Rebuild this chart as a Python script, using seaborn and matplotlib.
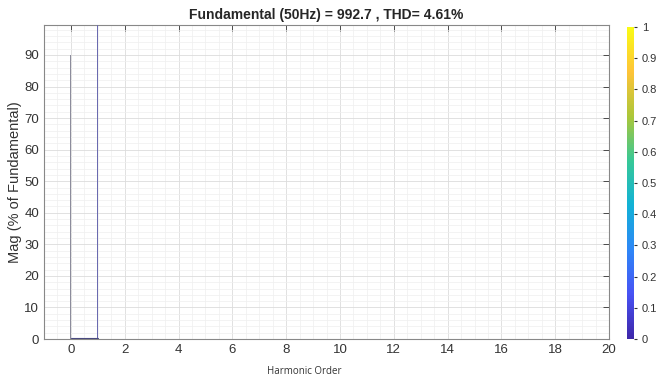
import numpy as np
import pandas as pd
import seaborn as sns
import matplotlib
matplotlib.use("Agg")
import matplotlib.pyplot as plt
from matplotlib.colors import LinearSegmentedColormap, Normalize
from matplotlib.ticker import MultipleLocator
from matplotlib.colorbar import ColorbarBase

# Harmonic spectrum values (% of fundamental)
harmonic_order = [0, 1]
magnitude = [90, 100]
bar_colors = ["#8c8c9c", "#6a6ab0"]

title_text = "Fundamental (50Hz) = 992.7 , THD= 4.61%"
x_ticks = list(range(0, 21, 2))
y_ticks = list(range(0, 100, 10))
cbar_ticks = [0, 0.1, 0.2, 0.3, 0.4, 0.5, 0.6, 0.7, 0.8, 0.9, 1]

sns.set_style("white")
plt.rcParams["font.family"] = ["Liberation Sans", "DejaVu Sans"]

fig = plt.figure(figsize=(6.62, 3.79), dpi=100)
ax = fig.add_axes([0.0665, 0.1055, 0.8535, 0.8285])

df = pd.DataFrame({"order": harmonic_order, "mag": magnitude})
sns.barplot(data=df, x="order", y="mag", native_scale=True, width=0.04,
            color=bar_colors[0], ax=ax, edgecolor="none")
for patch, c in zip(ax.patches, bar_colors):
    patch.set_facecolor(c)
    patch.set_zorder(3)
# baseline trace along zero
ax.plot([0, 1], [0.2, 0.2], color="#4a4a80", lw=0.8, zorder=3)

ax.set_xlim(-1, 20)
ax.set_ylim(0, 99.5)
ax.set_xticks(x_ticks)
ax.set_yticks(y_ticks)
ax.xaxis.set_minor_locator(MultipleLocator(0.5))
ax.yaxis.set_minor_locator(MultipleLocator(2))
ax.grid(which="major", color="#dcdcdc", lw=0.6)
ax.grid(which="minor", color="#efefef", lw=0.5)
ax.set_axisbelow(True)
ax.tick_params(which="major", direction="in", length=4, top=True, right=True,
               labelsize=9.5, colors="#333333", width=0.6)
ax.tick_params(which="minor", length=0)
for s in ax.spines.values():
    s.set_color("#888888")
    s.set_linewidth(0.8)

ax.set_title(title_text, fontsize=10, fontweight="bold", pad=4)
ax.set_ylabel("Mag (% of Fundamental)", fontsize=10.5, color="#333333", labelpad=2)
ax.set_xlabel("Harmonic Order", fontsize=7, color="#333333",
              family=["Open Sans", "DejaVu Sans"])
ax.xaxis.set_label_coords(0.46, -0.085)

parula = LinearSegmentedColormap.from_list("parula", [
    (0.2422, 0.1504, 0.6603), (0.2810, 0.3228, 0.9579),
    (0.1786, 0.5289, 0.9682), (0.0689, 0.6948, 0.8394),
    (0.2161, 0.7843, 0.5923), (0.6720, 0.7793, 0.2227),
    (0.9970, 0.7659, 0.2199), (0.9769, 0.9839, 0.0805)])
cax = fig.add_axes([0.947, 0.1055, 0.011, 0.823])
cb = ColorbarBase(cax, cmap=parula, norm=Normalize(0, 1), ticks=cbar_ticks)
cb.outline.set_visible(False)
cax.tick_params(labelsize=8, length=2, colors="#333333")
cax.set_yticklabels([f"{t:g}" for t in cbar_ticks])

fig.savefig("out.png", dpi=100)
